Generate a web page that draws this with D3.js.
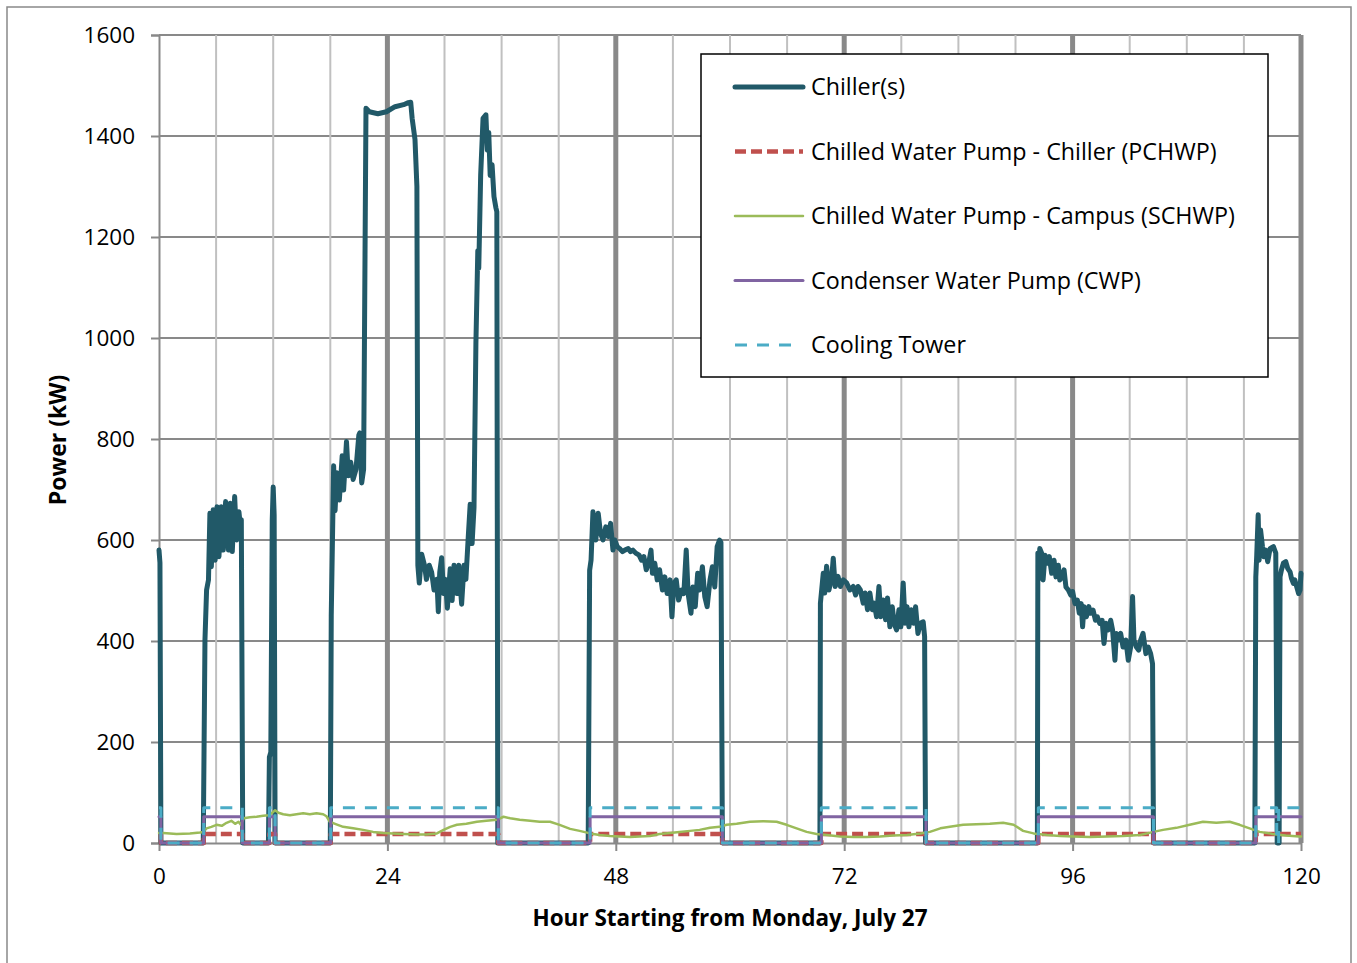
<!DOCTYPE html>
<html>
<head>
<meta charset="utf-8">
<script src="https://cdn.jsdelivr.net/npm/d3@7"></script>
<style>
  body { margin: 0; background: #fff; }
  svg { display: block; }
  text { font-family: "Open Sans", "Noto Sans", sans-serif; fill: #000; }
</style>
</head>
<body>
<svg id="chart" width="1357" height="963"></svg>
<script>
// ---- data -------------------------------------------------------------
const hourTicks = [0, 24, 48, 72, 96, 120];
const powerTicks = [0, 200, 400, 600, 800, 1000, 1200, 1400, 1600];

const seriesNames = [
  "Chiller(s)",
  "Chilled Water Pump - Chiller (PCHWP)",
  "Chilled Water Pump - Campus (SCHWP)",
  "Condenser Water Pump (CWP)",
  "Cooling Tower"
];

// [hour, kW]
const chillerKW = [
  [0, 580], [0.1, 555], [0.2, 0],
  [4.65, 0], [4.83, 402], [5.0, 501], [5.2, 521], [5.35, 653], [5.5, 547], [5.7, 660],
  [5.9, 560], [6.1, 666], [6.3, 567], [6.55, 666], [6.75, 580], [7.0, 676], [7.3, 580],
  [7.5, 673], [7.7, 577], [7.95, 686], [8.15, 600], [8.4, 656], [8.55, 627], [8.65, 640], [8.8, 0],
  [11.5, 0], [11.6, 170], [11.75, 180], [11.9, 640], [12.0, 705], [12.1, 650], [12.2, 0],
  [18.0, 0], [18.1, 450], [18.35, 747], [18.5, 658], [18.7, 733], [18.95, 679], [19.25, 767],
  [19.4, 699], [19.7, 795], [19.9, 727], [20.15, 754], [20.4, 720], [20.7, 740], [21.0, 808],
  [21.1, 812], [21.3, 713], [21.5, 740], [21.75, 1455], [22.1, 1448], [23.0, 1444], [23.9, 1448],
  [24.8, 1458], [25.7, 1462], [26.2, 1466], [26.45, 1467], [26.6, 1435], [26.9, 1393], [27.1, 1300],
  [27.2, 550], [27.35, 515], [27.6, 572], [27.9, 550], [28.1, 522], [28.4, 550], [28.65, 536],
  [28.9, 501], [29.2, 522], [29.35, 458], [29.5, 536], [29.7, 565], [29.9, 494], [30.1, 522],
  [30.3, 465], [30.6, 543], [30.8, 480], [31.0, 550], [31.3, 494], [31.5, 550], [31.8, 473],
  [32.05, 550], [32.25, 522], [32.5, 607], [32.7, 671], [32.9, 593], [33.1, 664], [33.3, 989],
  [33.5, 1173], [33.6, 1138], [33.8, 1322], [34.05, 1435], [34.35, 1442], [34.5, 1372],
  [34.65, 1407], [34.8, 1322], [35.0, 1343], [35.2, 1280], [35.4, 1258], [35.5, 1250], [35.6, 0],
  [45.1, 0], [45.25, 540], [45.4, 560], [45.6, 656], [45.9, 600], [46.15, 653], [46.4, 613],
  [46.65, 600], [46.95, 626], [47.2, 607], [47.45, 633], [47.7, 580], [47.9, 600], [48.15, 587],
  [48.4, 583], [48.7, 577], [48.95, 580], [49.3, 583], [49.55, 577], [49.8, 580], [50.1, 574],
  [50.45, 570], [50.7, 560], [50.95, 567], [51.2, 541], [51.45, 554], [51.7, 580], [51.85, 534],
  [52.1, 554], [52.35, 521], [52.6, 541], [52.9, 501], [53.15, 527], [53.4, 494], [53.7, 521],
  [53.9, 448], [54.1, 514], [54.35, 521], [54.6, 481], [54.9, 501], [55.15, 494], [55.4, 580],
  [55.6, 494], [55.9, 455], [56.1, 507], [56.35, 468], [56.6, 534], [56.8, 501], [57.1, 547],
  [57.35, 488], [57.6, 468], [57.9, 521], [58.15, 547], [58.4, 507], [58.65, 587], [58.9, 600],
  [59.05, 595], [59.2, 0],
  [69.45, 0], [69.5, 475], [69.8, 534], [69.95, 495], [70.15, 548], [70.4, 501], [70.7, 528],
  [70.85, 564], [71.05, 508], [71.35, 528], [71.6, 508], [71.9, 521], [72.25, 515], [72.6, 501],
  [72.95, 508], [73.2, 491], [73.45, 508], [73.7, 501], [74.0, 475], [74.2, 495], [74.45, 462],
  [74.7, 495], [74.95, 462], [75.15, 475], [75.4, 448], [75.65, 508], [75.85, 448], [76.1, 481],
  [76.35, 442], [76.55, 485], [76.8, 428], [77.05, 468], [77.25, 435], [77.5, 422], [77.75, 462],
  [77.95, 428], [78.2, 515], [78.4, 435], [78.6, 468], [78.8, 428], [79.05, 462], [79.3, 435],
  [79.5, 468], [79.75, 415], [80.0, 435], [80.3, 438], [80.45, 409], [80.55, 0],
  [92.3, 0], [92.35, 574], [92.4, 521], [92.55, 583], [92.75, 574], [92.9, 521], [93.1, 570],
  [93.35, 554], [93.55, 567], [93.8, 534], [94.05, 560], [94.25, 527], [94.5, 550], [94.65, 521],
  [94.9, 527], [95.1, 541], [95.3, 507], [95.55, 501], [95.8, 491], [96.0, 498], [96.25, 474],
  [96.5, 481], [96.7, 455], [96.9, 474], [97.05, 428], [97.2, 468], [97.45, 448], [97.7, 468],
  [97.9, 455], [98.15, 461], [98.4, 441], [98.6, 448], [98.85, 435], [99.1, 441], [99.3, 395],
  [99.5, 435], [99.75, 422], [100.0, 441], [100.2, 422], [100.45, 362], [100.6, 415], [100.85, 402],
  [101.05, 415], [101.3, 388], [101.6, 402], [101.85, 362], [102.1, 388], [102.3, 488], [102.45, 402],
  [102.7, 388], [102.95, 382], [103.15, 402], [103.4, 415], [103.7, 375], [103.95, 388], [104.2, 375],
  [104.4, 355], [104.5, 0],
  [115.15, 0], [115.25, 527], [115.35, 570], [115.5, 650], [115.6, 560], [115.75, 620], [115.95, 587],
  [116.1, 567], [116.3, 580], [116.5, 557], [116.75, 583], [117.1, 587], [117.35, 574], [117.5, 0],
  [117.7, 0], [117.8, 527], [117.95, 541], [118.15, 554], [118.4, 557], [118.6, 544], [118.85, 537],
  [119.0, 524], [119.2, 514], [119.35, 521], [119.55, 507], [119.75, 494], [119.9, 501], [120.0, 534]
];

// pump and tower loads, held until the next change
const pchwpKW = [
  [0, 18], [0.2, 0], [4.7, 18], [8.75, 0], [11.6, 18], [12.2, 0], [18.05, 18], [35.65, 0],
  [45.3, 18], [59.2, 0], [69.6, 18], [80.6, 0], [92.4, 18], [104.5, 0], [115.25, 18], [120, 18]
];

const cwpKW = [
  [0, 52], [0.2, 0], [4.7, 52], [8.75, 0], [11.6, 52], [12.2, 0], [18.05, 52], [35.65, 0],
  [45.3, 52], [59.2, 0], [69.6, 52], [80.6, 0], [92.4, 52], [104.5, 0], [115.25, 52], [120, 52]
];

const towerKW = [
  [0, 70], [0.2, 0], [4.7, 70], [8.75, 0], [11.6, 70], [12.2, 0], [18.05, 70], [35.65, 0],
  [45.3, 70], [59.2, 0], [69.6, 70], [80.6, 0], [92.4, 70], [104.5, 0], [115.25, 70], [117.45, 0],
  [117.65, 70], [120, 70]
];

const schwpKW = [
  [0, 20], [0.45, 20], [1.85, 18], [3.25, 19], [4.3, 21], [4.65, 22], [5.0, 29], [5.5, 32],
  [6.05, 36], [6.6, 34], [7.1, 40], [7.6, 44], [8.0, 38], [8.35, 42], [8.6, 36], [8.9, 49],
  [9.55, 51], [10.25, 52], [10.95, 54], [11.5, 55], [11.85, 59], [12.2, 65], [12.55, 60],
  [13.05, 57], [13.75, 55], [14.45, 57], [15.15, 59], [15.85, 57], [16.55, 59], [17.25, 57],
  [17.6, 53], [17.95, 42], [18.5, 38], [19.35, 32], [20.4, 29], [21.45, 26], [22.5, 22],
  [23.55, 20], [24.6, 19], [25.7, 18], [27.1, 17], [28.1, 17], [29.2, 19], [29.9, 26],
  [30.6, 32], [31.3, 36], [32.3, 38], [33.4, 42], [34.4, 44], [35.5, 46], [36.2, 52],
  [36.9, 49], [37.9, 46], [39.0, 44], [40.0, 42], [41.1, 42], [42.1, 36], [43.2, 28],
  [44.2, 24], [45.3, 19], [46.3, 16], [47.4, 14], [48.4, 13], [49.5, 12], [50.5, 13],
  [51.6, 14], [52.6, 18], [53.7, 20], [54.7, 22], [55.8, 24], [56.8, 26], [57.9, 30],
  [58.9, 32], [59.65, 36], [60.7, 38], [62.1, 42], [63.5, 43], [64.9, 42], [65.95, 36],
  [67.0, 29], [68.05, 22], [69.1, 18], [70.15, 16], [71.55, 13], [73.0, 12], [74.35, 12],
  [75.75, 13], [77.15, 15], [78.6, 16], [80.0, 19], [81.0, 22], [82.1, 29], [83.1, 32],
  [84.5, 36], [85.9, 37], [87.3, 38], [88.7, 40], [89.8, 36], [90.8, 24], [91.9, 19],
  [93.3, 16], [94.7, 14], [96.1, 13], [97.8, 12], [99.6, 13], [101.3, 14], [103.1, 16],
  [104.5, 22], [105.5, 26], [106.9, 30], [108.3, 36], [109.7, 42], [111.1, 40], [112.5, 42],
  [113.55, 36], [114.6, 29], [115.65, 22], [117.0, 18], [118.4, 15], [119.8, 13], [120, 13]
];

// ---- layout -----------------------------------------------------------
const svg = d3.select("#chart");
const plot = { left: 159, right: 1301, top: 35, bottom: 843 };

const x = d3.scaleLinear().domain([0, 120]).range([plot.left, plot.right]);
const y = d3.scaleLinear().domain([0, 1600]).range([plot.bottom, plot.top]);

const gridGray = "#898989";

// chart area frame
svg.append("rect")
  .attr("x", 7).attr("y", 7).attr("width", 1344).attr("height", 975)
  .attr("fill", "#fff").attr("stroke", gridGray).attr("stroke-width", 1.5);

// horizontal gridlines
svg.append("g").selectAll("line").data(powerTicks.filter(d => d > 0)).join("line")
  .attr("x1", plot.left).attr("x2", plot.right)
  .attr("y1", d => y(d)).attr("y2", d => y(d))
  .attr("stroke", gridGray).attr("stroke-width", 2);

// six-hourly gridlines, heavier at each day boundary
const gridHours = d3.range(6, 121, 6);
svg.append("g").selectAll("line").data(gridHours.filter(h => h % 24 !== 0)).join("line")
  .attr("x1", d => x(d)).attr("x2", d => x(d))
  .attr("y1", plot.top).attr("y2", plot.bottom)
  .attr("stroke", "#c0c0c0").attr("stroke-width", 2);
svg.append("g").selectAll("line").data(gridHours.filter(h => h % 24 === 0)).join("line")
  .attr("x1", d => x(d)).attr("x2", d => x(d))
  .attr("y1", plot.top).attr("y2", plot.bottom)
  .attr("stroke", gridGray).attr("stroke-width", 5);

// axes
const yAxis = d3.axisLeft(y).tickValues(powerTicks).tickFormat(d3.format("d"))
  .tickSize(8).tickPadding(16);
const gy = svg.append("g").attr("transform", `translate(${plot.left},0)`).call(yAxis);
const xAxis = d3.axisBottom(x).tickValues(hourTicks).tickFormat(d3.format("d"))
  .tickSize(8).tickPadding(17);
const gx = svg.append("g").attr("transform", `translate(0,${plot.bottom})`).call(xAxis);
[gx, gy].forEach(g => {
  g.select(".domain").attr("stroke", gridGray).attr("stroke-width", 2);
  g.selectAll(".tick line").attr("stroke", gridGray).attr("stroke-width", 2);
  g.selectAll(".tick text").style("font-family", '"Open Sans", sans-serif')
    .style("font-size", "22.5px").attr("fill", "#000");
});
gx.select(".domain").attr("d", `M${plot.left},0.5H${plot.right}`);

// axis titles
svg.append("text")
  .attr("x", 730).attr("y", 926)
  .attr("text-anchor", "middle")
  .style("font-size", "22.5px").style("font-weight", "bold")
  .text("Hour Starting from Monday, July 27");
svg.append("text")
  .attr("transform", `translate(66,440) rotate(-90)`)
  .attr("text-anchor", "middle")
  .style("font-size", "23px").style("font-weight", "bold")
  .text("Power (kW)");

// ---- series -----------------------------------------------------------
const styles = [
  { data: chillerKW, color: "#215968", width: 5, dash: null, curve: d3.curveLinear, keyEnd: 803 },
  { data: pchwpKW, color: "#c0504d", width: 4.5, dash: "11,5", curve: d3.curveStepAfter, keyEnd: 803 },
  { data: schwpKW, color: "#9bbb59", width: 2.5, dash: null, curve: d3.curveLinear, keyEnd: 803 },
  { data: cwpKW, color: "#8064a2", width: 3, dash: null, curve: d3.curveStepAfter, keyEnd: 803 },
  { data: towerKW, color: "#4bacc6", width: 3, dash: "12,10", curve: d3.curveStepAfter, keyEnd: 792 }
];

styles.forEach(s => {
  const line = d3.line().x(d => x(d[0])).y(d => y(d[1])).curve(s.curve);
  svg.append("path")
    .attr("d", line(s.data))
    .attr("fill", "none")
    .attr("stroke", s.color)
    .attr("stroke-width", s.width)
    .attr("stroke-linejoin", "round")
    .attr("stroke-linecap", s.dash ? "butt" : "round")
    .attr("stroke-dasharray", s.dash);
});

// ---- legend -----------------------------------------------------------
const legend = svg.append("g");
legend.append("rect")
  .attr("x", 701).attr("y", 54).attr("width", 567).attr("height", 323)
  .attr("fill", "#fff").attr("stroke", "#000").attr("stroke-width", 1.5);

const rowY = d3.scalePoint().domain(seriesNames).range([87, 345]);
seriesNames.forEach((name, i) => {
  const s = styles[i];
  const ly = rowY(name);
  legend.append("line")
    .attr("x1", 735).attr("x2", s.keyEnd).attr("y1", ly).attr("y2", ly)
    .attr("stroke", s.color).attr("stroke-width", s.width)
    .attr("stroke-linecap", s.dash ? "butt" : "round")
    .attr("stroke-dasharray", s.dash);
  legend.append("text")
    .attr("x", 811).attr("y", ly).attr("dy", "0.35em")
    .style("font-size", "23.3px")
    .text(name);
});
</script>
</body>
</html>
